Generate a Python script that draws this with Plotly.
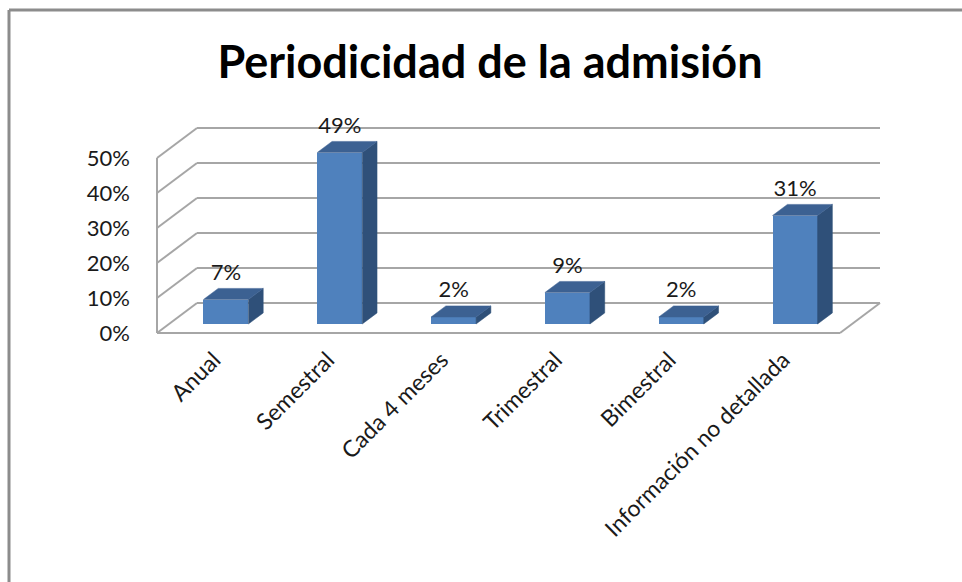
import plotly.graph_objects as go

categories = ["Anual", "Semestral", "Cada 4 meses", "Trimestral", "Bimestral", "Información no detallada"]
values = [0.07, 0.49, 0.02, 0.09, 0.02, 0.31]
value_labels = ["7%", "49%", "2%", "9%", "2%", "31%"]
y_ticks = [0.0, 0.1, 0.2, 0.3, 0.4, 0.5]
y_tick_labels = ["0%", "10%", "20%", "30%", "40%", "50%"]

W, H = 962, 582
# plot geometry (pixels)
L, R, B, T = 157, 880, 333, 128
DEPTH_PX_X, DEPTH_PX_Y = 40, 30
n = len(categories)
ux = (R - L - DEPTH_PX_X) / n          # px per category unit
uy = (B - T - DEPTH_PX_Y) / 0.5        # px per value unit
DX = DEPTH_PX_X / ux
DY = DEPTH_PX_Y / uy
PAD = 4
px_pad, py_pad = PAD / ux, PAD / uy
x_lo, x_hi = -0.5, n - 0.5 + DX
y_lo, y_hi = 0.0, 0.5 + DY

f0, f1 = 0.30, 0.67
bar_w = 45 / ux

GRID = "#A6A6A6"
FRONT = "#4F81BD"
TOP = "#3C6192"
SIDE = "#2F5079"
FONT = "Lato"

fig = go.Figure()
shapes = []

def line(x0, y0, x1, y1):
    shapes.append(dict(type="line", xref="x", yref="y", x0=x0, y0=y0, x1=x1, y1=y1,
                       layer="below", line=dict(color=GRID, width=2)))

# back wall gridlines and side wall diagonals
for v in y_ticks:
    line(x_lo + DX, v + DY, x_hi, v + DY)
    line(x_lo, v, x_lo + DX, v + DY)
# front-left edge
line(x_lo, 0, x_lo, y_ticks[-1])
# floor front and right edge
line(x_lo, 0, n - 0.5, 0)
line(n - 0.5, 0, n - 0.5 + DX, DY)

# bars: front face
xc = [i + f0 * DX for i in range(n)]
fig.add_trace(go.Bar(x=xc, y=values, base=[f0 * DY] * n, width=bar_w,
                     marker=dict(color=FRONT, line=dict(width=0)), showlegend=False,
                     hovertext=categories, hoverinfo="text+y"))
dd_x = (f1 - f0) * DX
dd_y = (f1 - f0) * DY
for c, v in zip(xc, values):
    xl, xr = c - bar_w / 2, c + bar_w / 2
    b0 = f0 * DY
    t0 = b0 + v
    # side
    fig.add_trace(go.Scatter(x=[xr, xr + dd_x, xr + dd_x, xr, xr],
                             y=[b0, b0 + dd_y, t0 + dd_y, t0, b0],
                             fill="toself", fillcolor=SIDE, mode="lines",
                             line=dict(width=0.5, color=SIDE), hoverinfo="skip", showlegend=False))
    # top
    fig.add_trace(go.Scatter(x=[xl, xr, xr + dd_x, xl + dd_x, xl],
                             y=[t0, t0, t0 + dd_y, t0 + dd_y, t0],
                             fill="toself", fillcolor=TOP, mode="lines",
                             line=dict(width=0.5, color=TOP), hoverinfo="skip", showlegend=False))

# data labels
fig.add_trace(go.Scatter(x=xc, y=[v + f1 * DY + 3 / uy for v in values], mode="text",
                         text=value_labels, textposition="top center",
                         textfont=dict(family=FONT, size=22, color="#1a1a1a"),
                         cliponaxis=False, hoverinfo="skip", showlegend=False))

l_m = L - PAD
r_m = W - R - PAD
b_m = H - B - PAD
t_m = T - PAD
pw = W - l_m - r_m
ph = H - t_m - b_m

def paper_x(px):
    return (px - l_m) / pw

def paper_y(py):
    return (H - b_m - py) / ph

shapes += [
    dict(type="line", xref="paper", yref="paper", x0=paper_x(9), x1=paper_x(W + 5),
         y0=paper_y(10), y1=paper_y(10), line=dict(color="#8C8C8C", width=3)),
    dict(type="line", xref="paper", yref="paper", x0=paper_x(9), x1=paper_x(9),
         y0=paper_y(10), y1=paper_y(H + 5), line=dict(color="#8C8C8C", width=3)),
]

fig.update_layout(
    width=W, height=H,
    margin=dict(l=l_m, r=r_m, t=t_m, b=b_m, pad=0),
    paper_bgcolor="white", plot_bgcolor="rgba(0,0,0,0)",
    bargap=0,
    title=dict(text="<b>Periodicidad de la admisión</b>", x=490 / W, xref="container",
               xanchor="center", y=1 - 62 / H, yref="container", yanchor="middle",
               font=dict(family=FONT, size=45, color="black")),
    xaxis=dict(range=[x_lo - px_pad, x_hi + px_pad], tickmode="array",
               tickvals=list(range(n)), ticktext=categories, tickangle=-45,
               showgrid=False, zeroline=False, showline=False, ticks="",
               ticklabelstandoff=4,
               tickfont=dict(family=FONT, size=23, color="#1a1a1a")),
    yaxis=dict(range=[y_lo - py_pad, y_hi + py_pad], tickmode="array",
               tickvals=y_ticks, ticktext=y_tick_labels,
               showgrid=False, zeroline=False, showline=False, ticks="",
               ticklabelstandoff=22,
               tickfont=dict(family=FONT, size=22, color="#1a1a1a")),
    shapes=shapes,
)

fig.write_html("out.html", config={"displayModeBar": False},
               post_script="document.body.style.margin='0';document.body.style.overflow='hidden';")
